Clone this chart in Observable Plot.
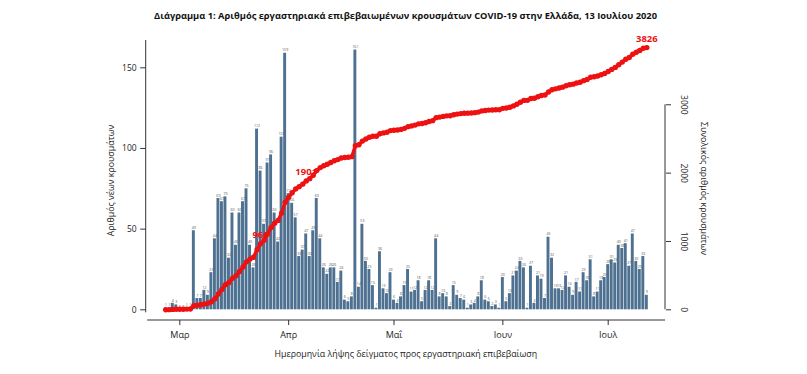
<!DOCTYPE html>
<html><head><meta charset="utf-8">
<script src="https://cdn.jsdelivr.net/npm/d3@7"></script>
<script src="https://cdn.jsdelivr.net/npm/@observablehq/plot@0.6"></script>
<style>
body{margin:0;background:#fff;font-family:"Open Sans",sans-serif;}
#title{height:30px;width:807px;text-align:center;font-weight:bold;font-size:9.3px;line-height:32px;padding-left:4px;box-sizing:border-box;color:#111;}
#chart svg{display:block;}
</style></head><body>
<div id="title">Διάγραμμα 1: Αριθμός εργαστηριακά επιβεβαιωμένων κρουσμάτων COVID-19 στην Ελλάδα, 13 Ιουλίου 2020</div>
<div id="chart"></div>
<script>
const startDate = "2020-02-26";
const dailyCases = [
  1, 1, 4, 3, 0, 0, 1, 1,
  49, 7, 7, 12, 9, 23, 44, 69, 67, 70,
  32, 60, 40, 60, 67, 75, 40, 26, 112, 86,
  53, 91, 96, 60, 42, 107, 159, 72, 66, 57,
  33, 37, 47, 33, 49, 69, 44, 26, 22, 26,
  26, 17, 24, 6, 5, 8, 161, 14, 53, 30,
  25, 15, 1, 36, 13, 10, 23, 6, 4, 8,
  15, 25, 11, 12, 18, 5, 12, 18, 12, 44,
  8, 10, 8, 2, 15, 9, 7, 6, 1, 3,
  4, 8, 18, 6, 5, 2, 3, 1, 20, 5,
  10, 21, 24, 30, 26, 1, 27, 4, 21, 19,
  7, 45, 32, 13, 13, 12, 21, 14, 9, 17,
  11, 23, 18, 31, 8, 11, 18, 20, 28, 31,
  29, 40, 38, 41, 27, 47, 30, 25, 33, 9
];
const monthTicks = ["2020-03-01", "2020-04-01", "2020-05-01", "2020-06-01", "2020-07-01"];
const monthLabels = ["Μαρ", "Απρ", "Μαΐ", "Ιουν", "Ιουλ"];
const leftTicks = [0, 50, 100, 150];
const rightTicks = [0, 1000, 2000, 3000];
const milestoneDates = ["2020-03-24", "2020-04-06", "2020-07-12"];
const milestoneLabels = ["966", "1901", "3826"];
const titleLeft = "Αριθμός νέων κρουσμάτων";
const titleRight = "Συνολικός αριθμός κρουσμάτων";
const titleX = "Ημερομηνία λήψης δείγματος προς εργαστηριακή επιβεβαίωση";

const barColor = "#4e7191";
const red = "#ee1111";
const axisColor = "#333";
const font = "Open Sans, sans-serif";

// right axis (cumulative) expressed in left-axis units
const k = 127.07 / 3000;

const start = new Date(startDate + "T00:00:00Z");
const cum = d3.cumsum(dailyCases);
const data = dailyCases.map((v, i) => ({date: d3.utcDay.offset(start, i), v, cum: cum[i]}));
const byTime = new Map(data.map(d => [+d.date, d]));
const milestones = milestoneDates.map((s, i) => {
  const d = byTime.get(+new Date(s + "T00:00:00Z"));
  return {date: d.date, cum: d.cum, label: milestoneLabels[i]};
});
const tickDates = monthTicks.map(s => new Date(s + "T00:00:00Z"));

const W = 807, H = 344;
const mL = 145.7, mR = 142, mT = 10, mB = 54;

const axisLines = (index, scales, values, dims) => {
  const g = d3.create("svg:g").attr("stroke", axisColor).attr("stroke-width", 1).attr("fill", "none");
  const xl = dims.marginLeft, xr = dims.width - dims.marginRight, yb = dims.height - dims.marginBottom;
  g.append("line").attr("x1", xl).attr("x2", xl).attr("y1", dims.marginTop).attr("y2", scales.y(0) + 3);
  g.append("line").attr("x1", xl + 1.5).attr("x2", xr).attr("y1", yb).attr("y2", yb);
  g.append("line").attr("x1", xr).attr("x2", xr).attr("y1", scales.y(0)).attr("y2", scales.y(d3.max(rightTicks) * k));
  return g.node();
};

const chart = Plot.plot({
  width: W, height: H,
  marginLeft: mL, marginRight: mR, marginTop: mT, marginBottom: mB,
  style: {fontFamily: font, background: "#fff", color: "#222"},
  x: {type: "utc", domain: [tickDates[0], tickDates[4]], range: [179.3, 607.7]},
  y: {domain: [0, 150], range: [279.3, 37.3]},
  marks: [
    Plot.rect(data, {
      x1: d => d3.utcHour.offset(d.date, -10),
      x2: d => d3.utcHour.offset(d.date, 10),
      y1: 0, y2: "v", fill: barColor
    }),
    Plot.text(data, {x: "date", y: "v", text: "v", dy: -3, fontSize: 3.6, fill: "#555"}),
    Plot.text(milestones, {x: "date", y: d => d.cum * k, text: "label", dy: -9, fill: red, fontSize: 9.5, fontWeight: "bold"}),
    Plot.line(data, {x: "date", y: d => d.cum * k, stroke: red, strokeWidth: 3.5}),
    Plot.dot(data, {x: "date", y: d => d.cum * k, r: 2.7, fill: red, stroke: "none"}),
    axisLines,
    Plot.axisY({anchor: "left", ticks: leftTicks, tickSize: 5.5, tickPadding: 4, fontSize: 8.5, label: null, stroke: axisColor}),
    Plot.axisY({anchor: "right", ticks: rightTicks.map(t => t * k), tickSize: 5, tickFormat: () => "", label: null, stroke: axisColor}),
    Plot.text(rightTicks, {y: d => d * k, text: d => String(d), frameAnchor: "right", textAnchor: "middle", dx: 18, rotate: 90, fontSize: 8.5, fill: "#222"}),
    Plot.axisX({anchor: "bottom", ticks: tickDates, tickFormat: (d, i) => monthLabels[i], tickSize: 5, tickPadding: 6, fontSize: 9, label: null, stroke: axisColor}),
    Plot.text([titleLeft], {frameAnchor: "left", textAnchor: "middle", dx: -34.7, dy: 0, rotate: -90, fontSize: 8.8, fill: "#222"}),
    Plot.text([titleRight], {frameAnchor: "right", textAnchor: "middle", dx: 38, dy: 8, rotate: 90, fontSize: 8.8, fill: "#222"}),
    Plot.text([titleX], {frameAnchor: "bottom", dy: 36, fontSize: 8.8, fill: "#222"})
  ]
});
document.getElementById("chart").appendChild(chart);
</script>
</body></html>
